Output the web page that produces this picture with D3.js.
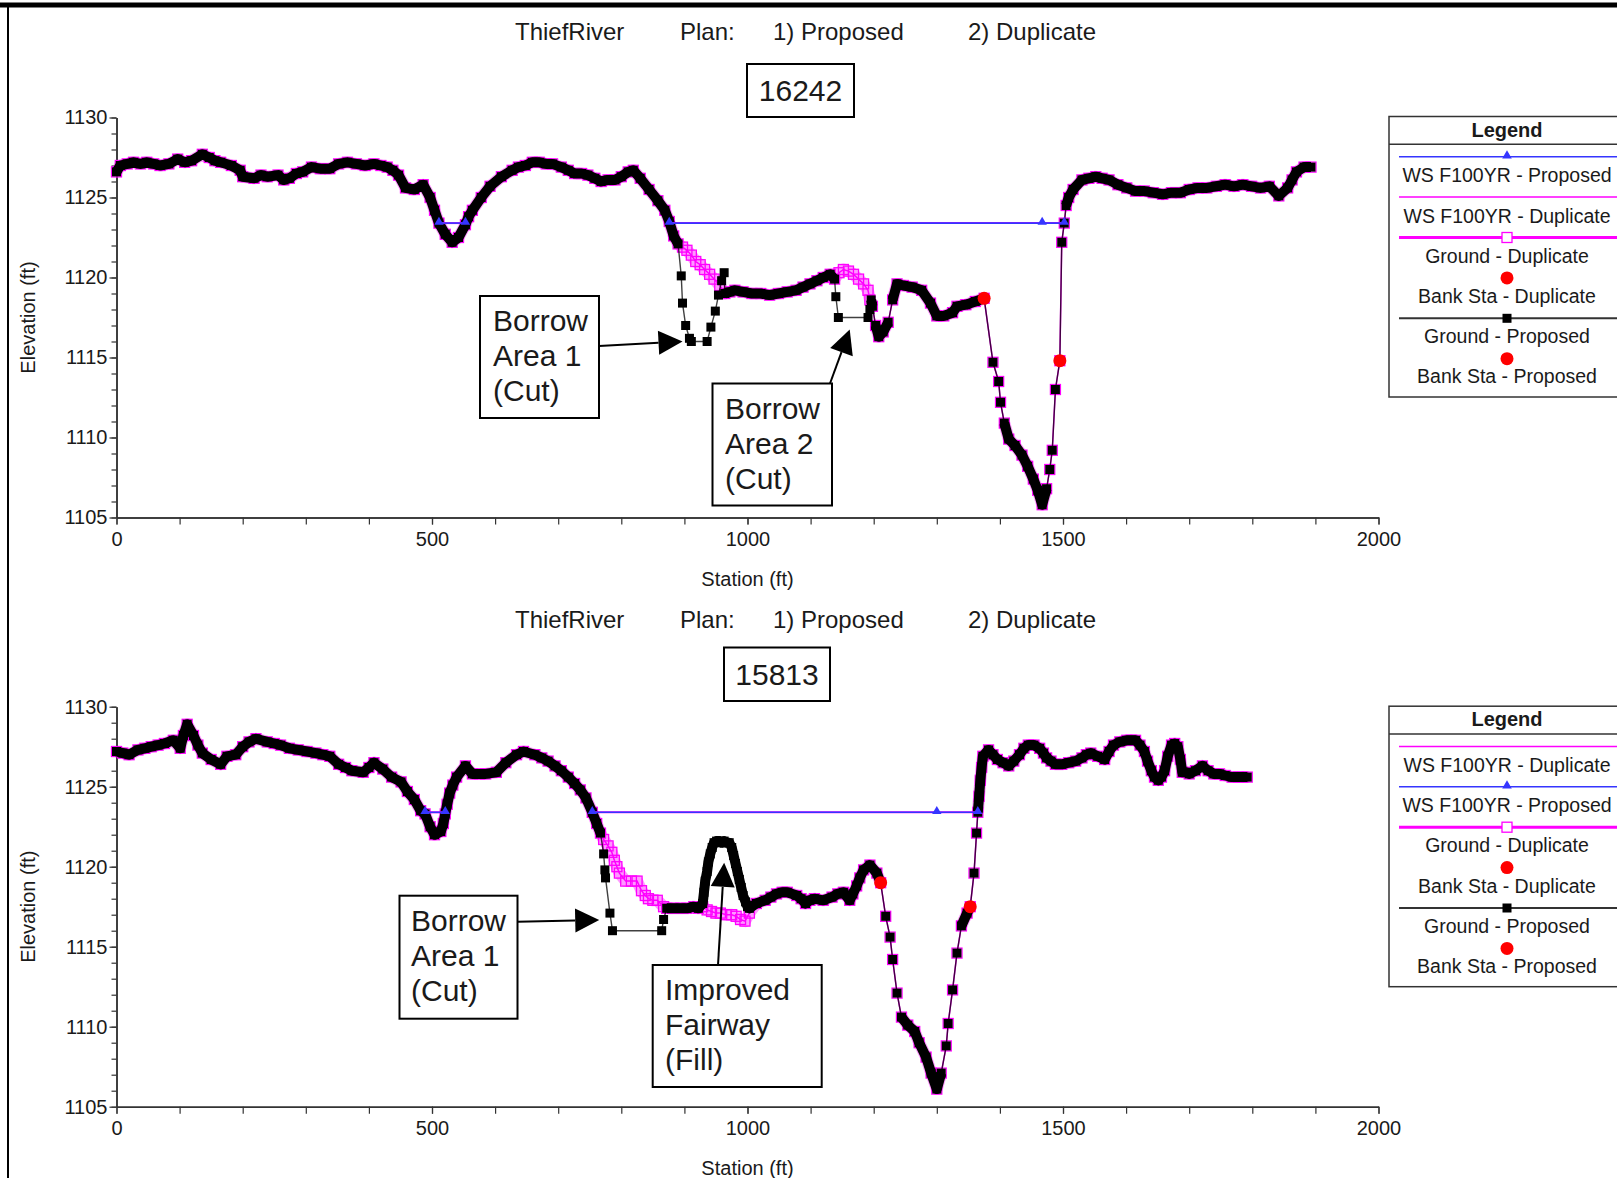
<!DOCTYPE html>
<html>
<head>
<meta charset="utf-8">
<script src="https://cdn.jsdelivr.net/npm/d3@7"></script>
<style>
  body { margin: 0; background: #fff; }
  text { font-family: "Liberation Sans", Arial, Helvetica, sans-serif; fill: #1a1a1a; }
</style>
</head>
<body>
<svg id="chart" width="1617" height="1178"></svg>
<script>
// ---- data (station ft, elevation ft) ----
const titleParts = ["ThiefRiver", "Plan:", "1) Proposed", "2) Duplicate"];
const stationTicks = [0, 500, 1000, 1500, 2000];
const stationMinor = [0, 100, 200, 300, 400, 500, 600, 700, 800, 900, 1000, 1100, 1200, 1300, 1400, 1500, 1600, 1700, 1800, 1900, 2000];
const elevTicks = [1105, 1110, 1115, 1120, 1125, 1130];
const elevMinor = [1105, 1106, 1107, 1108, 1109, 1110, 1111, 1112, 1113, 1114, 1115, 1116, 1117, 1118, 1119, 1120, 1121, 1122, 1123, 1124, 1125, 1126, 1127, 1128, 1129, 1130];

// existing ground (plan 2 "Duplicate") at XS 16242
const ground16242Dup = [[0,1126.6],[6,1127.0],[17,1127.1],[27,1127.2],[38,1127.1],[48,1127.2],[59,1127.1],[69,1127.0],[83,1127.1],[97,1127.4],[108,1127.2],[119,1127.3],[136,1127.7],[147,1127.5],[156,1127.3],[165,1127.2],[182,1127.0],[196,1126.7],[200,1126.3],[218,1126.2],[229,1126.4],[239,1126.3],[256,1126.4],[265,1126.1],[274,1126.2],[285,1126.5],[295,1126.6],[309,1126.9],[323,1126.8],[338,1126.8],[352,1127.1],[366,1127.2],[380,1127.1],[394,1127.0],[408,1127.1],[419,1127.0],[429,1126.9],[438,1126.7],[447,1126.4],[458,1125.6],[472,1125.5],[486,1125.8],[497,1125.0],[504,1124.2],[511,1123.4],[521,1122.7],[532,1122.2],[542,1122.5],[553,1123.3],[558,1123.8],[564,1124.2],[578,1125.0],[592,1125.7],[610,1126.3],[627,1126.7],[637,1126.9],[648,1127.0],[659,1127.2],[670,1127.2],[681,1127.1],[691,1127.1],[705,1126.9],[716,1126.7],[726,1126.5],[737,1126.5],[747,1126.4],[758,1126.2],[768,1126.0],[779,1126.1],[790,1126.1],[800,1126.3],[811,1126.6],[819,1126.7],[830,1126.2],[844,1125.5],[858,1124.8],[869,1124.2],[876,1123.5],[883,1122.6],[890,1122.1],[897,1121.9],[904,1121.7],[911,1121.4],[918,1121.0],[925,1120.8],[932,1120.5],[940,1120.2],[947,1119.9],[956,1119.5],[964,1119.0],[972,1119.1],[980,1119.2],[993,1119.1],[1007,1119.0],[1021,1119.0],[1035,1118.9],[1049,1119.0],[1063,1119.1],[1077,1119.2],[1088,1119.4],[1099,1119.6],[1110,1119.8],[1120,1120.0],[1131,1120.2],[1138,1119.9],[1145,1120.3],[1152,1120.5],[1160,1120.4],[1168,1120.2],[1176,1119.9],[1184,1119.6],[1191,1119.2],[1194,1118.6],[1198,1118.2],[1203,1117.0],[1208,1116.3],[1215,1116.6],[1223,1117.2],[1230,1118.6],[1237,1119.6],[1247,1119.5],[1261,1119.4],[1276,1119.2],[1290,1118.4],[1300,1117.6],[1311,1117.6],[1325,1117.8],[1332,1118.2],[1346,1118.3],[1361,1118.5],[1375,1118.7],[1389,1114.7],[1398,1113.5],[1401,1112.2],[1407,1110.9],[1414,1109.9],[1424,1109.5],[1435,1108.9],[1444,1108.2],[1453,1107.4],[1460,1106.7],[1467,1105.8],[1474,1106.8],[1479,1108.0],[1483,1109.2],[1488,1113.0],[1495,1114.8],[1498,1122.2],[1502,1123.4],[1505,1124.5],[1509,1125.0],[1516,1125.5],[1530,1126.1],[1541,1126.2],[1552,1126.3],[1562,1126.2],[1573,1126.1],[1587,1125.8],[1601,1125.6],[1615,1125.4],[1629,1125.4],[1643,1125.3],[1658,1125.2],[1672,1125.3],[1686,1125.3],[1700,1125.5],[1714,1125.6],[1728,1125.6],[1743,1125.7],[1757,1125.8],[1771,1125.7],[1785,1125.8],[1799,1125.7],[1813,1125.6],[1827,1125.7],[1842,1125.1],[1856,1125.6],[1863,1126.1],[1870,1126.6],[1882,1126.9],[1893,1126.9]];
// plan 1 "Proposed" changes at XS 16242 (each replaces the existing ground between its end stations)
const cut16242Area1 = [[890,1122.1],[895,1120.1],[897,1118.4],[902,1117.0],[908,1116.2],[911,1116.0],[936,1116.0],[942,1116.9],[949,1117.9],[954,1118.9],[959,1119.8],[963,1120.3]];
const cut16242Area2 = [[1138,1119.9],[1140,1118.8],[1144,1117.5],[1191,1117.5],[1194,1118.0],[1196,1118.6]];
const ws16242Elev = 1123.4;
const ws16242Reaches = [[511, 553], [876, 1502]];
const ws16242Marks = [511, 553, 876, 1467, 1502];
const bank16242 = [[1375, 1118.7], [1495, 1114.8]];
const legend16242 = ["WS F100YR - Proposed", "WS F100YR - Duplicate", "Ground - Duplicate", "Bank Sta - Duplicate", "Ground - Proposed", "Bank Sta - Proposed"];

// existing ground (plan 2 "Duplicate") at XS 15813
const ground15813Dup = [[0,1127.2],[10,1127.1],[20,1127.0],[34,1127.3],[45,1127.4],[55,1127.5],[66,1127.6],[76,1127.7],[90,1127.9],[101,1127.4],[106,1128.2],[112,1128.9],[122,1128.2],[129,1127.6],[136,1127.1],[150,1126.7],[165,1126.4],[175,1126.9],[189,1127.0],[200,1127.5],[210,1127.8],[221,1128.0],[239,1127.8],[250,1127.7],[260,1127.6],[274,1127.4],[288,1127.3],[302,1127.2],[316,1127.1],[327,1127.0],[338,1126.9],[352,1126.4],[363,1126.2],[373,1126.0],[391,1125.9],[400,1126.2],[408,1126.5],[422,1126.1],[436,1125.6],[451,1125.3],[461,1124.7],[472,1124.2],[482,1123.5],[489,1123.3],[497,1122.5],[504,1122.0],[514,1122.2],[518,1122.7],[521,1123.3],[524,1123.9],[528,1124.6],[533,1125.1],[539,1125.6],[553,1126.3],[564,1125.8],[575,1125.8],[585,1125.8],[602,1125.9],[617,1126.5],[634,1127.0],[645,1127.2],[663,1127.0],[674,1126.8],[684,1126.6],[695,1126.3],[705,1126.0],[716,1125.6],[726,1125.2],[735,1124.8],[744,1124.3],[754,1123.4],[761,1122.7],[767,1122.1],[772,1121.7],[779,1121.3],[785,1120.9],[789,1120.4],[793,1120.0],[797,1119.6],[807,1119.1],[816,1119.1],[825,1119.1],[832,1118.5],[838,1118.2],[843,1118.0],[850,1117.9],[857,1117.9],[867,1117.5],[872,1117.4],[883,1117.4],[894,1117.4],[904,1117.4],[915,1117.5],[922,1117.4],[929,1117.5],[936,1117.3],[943,1117.2],[950,1117.1],[957,1117.1],[966,1117.0],[975,1117.0],[982,1116.9],[989,1116.7],[996,1116.6],[1003,1117.1],[1014,1117.7],[1028,1117.9],[1037,1118.1],[1046,1118.3],[1055,1118.4],[1063,1118.4],[1078,1118.2],[1085,1118.0],[1092,1117.7],[1099,1117.9],[1106,1118.0],[1120,1117.9],[1134,1118.1],[1143,1118.3],[1152,1118.4],[1162,1117.9],[1167,1118.3],[1173,1118.8],[1178,1119.3],[1184,1119.8],[1194,1120.1],[1205,1119.6],[1211,1119.0],[1219,1116.9],[1226,1115.6],[1230,1114.2],[1237,1112.1],[1244,1110.6],[1254,1110.1],[1265,1109.7],[1272,1109.0],[1283,1108.1],[1291,1107.1],[1300,1106.1],[1307,1107.1],[1315,1108.8],[1318,1110.2],[1325,1112.3],[1332,1114.6],[1339,1116.3],[1348,1117.1],[1353,1117.5],[1359,1119.6],[1363,1122.1],[1365,1123.4],[1367,1124.4],[1369,1125.4],[1371,1126.2],[1373,1126.9],[1382,1127.3],[1389,1127.0],[1396,1126.7],[1405,1126.5],[1414,1126.3],[1422,1126.6],[1431,1127.0],[1438,1127.4],[1445,1127.6],[1454,1127.6],[1463,1127.4],[1469,1127.1],[1474,1126.8],[1481,1126.6],[1488,1126.4],[1498,1126.4],[1509,1126.5],[1520,1126.6],[1530,1126.8],[1537,1127.0],[1544,1127.1],[1555,1126.9],[1566,1126.7],[1573,1127.2],[1580,1127.6],[1590,1127.8],[1601,1127.9],[1608,1127.9],[1615,1127.9],[1622,1127.6],[1629,1127.2],[1634,1126.6],[1640,1126.0],[1645,1125.6],[1651,1125.4],[1656,1125.6],[1661,1126.0],[1666,1126.9],[1672,1127.6],[1677,1127.7],[1682,1127.5],[1686,1126.7],[1689,1125.9],[1695,1125.9],[1700,1125.8],[1710,1126.0],[1721,1126.3],[1730,1126.0],[1739,1125.8],[1748,1125.8],[1757,1125.7],[1768,1125.6],[1778,1125.6],[1785,1125.6],[1792,1125.6]];
const cut15813Area1 = [[767,1122.1],[772,1120.8],[774,1119.8],[775,1119.3],[782,1117.1],[786,1116.0],[864,1116.0],[867,1116.7],[872,1117.4]];
const fill15813Fairway = [[929,1117.7],[931,1118.4],[933,1119.1],[936,1119.7],[938,1120.3],[941,1120.8],[944,1121.2],[947,1121.5],[951,1121.6],[955,1121.6],[959,1121.5],[963,1121.6],[967,1121.5],[971,1121.5],[975,1121.2],[978,1120.7],[981,1120.2],[984,1119.7],[987,1119.2],[990,1118.7],[993,1118.2],[997,1117.8],[1000,1117.5],[1003,1117.4]];
const ws15813Elev = 1123.4;
const ws15813Reaches = [[489, 521], [754, 1365]];
const ws15813Marks = [489, 521, 754, 1300, 1365];
const bank15813 = [[1211, 1119.0], [1353, 1117.5]];
const legend15813 = ["WS F100YR - Duplicate", "WS F100YR - Proposed", "Ground - Duplicate", "Bank Sta - Duplicate", "Ground - Proposed", "Bank Sta - Proposed"];

// ---- layout ----
const svg = d3.select("#chart");
const plotLeft = 116.5, plotRight = 1378.5, plotH = 400;
const magenta = "#ff00ff", blue = "#3535ff", red = "#ff0000";
const x = d3.scaleLinear().domain([0, 2000]).range([plotLeft, plotRight]);

const panels = [
  { top: 117.5, titleY: 39.5, label: "16242", labelBox: [747, 64, 107, 53], legendTop: 116.5,
    legend: legend16242, dup: ground16242Dup, cuts: [cut16242Area1, cut16242Area2], fills: [],
    wsElev: ws16242Elev, wsReaches: ws16242Reaches, wsMarks: ws16242Marks, banks: bank16242,
    notes: [
      { lines: ["Borrow", "Area 1", "(Cut)"], box: [480, 296, 119, 122], tx: 493, base: [331, 366, 401], from: [599, 346], tip: [897, 1116.0] },
      { lines: ["Borrow", "Area 2", "(Cut)"], box: [712.5, 383.5, 119.5, 122], tx: 725, base: [419, 454, 489], from: [830, 383.5], tip: [1162, 1116.75] }
    ] },
  { top: 706.7, titleY: 628, label: "15813", labelBox: [724, 647.5, 106, 53.5], legendTop: 706.2,
    legend: legend15813, dup: ground15813Dup, cuts: [cut15813Area1], fills: [fill15813Fairway],
    wsElev: ws15813Elev, wsReaches: ws15813Reaches, wsMarks: ws15813Marks, banks: bank15813,
    notes: [
      { lines: ["Borrow", "Area 1", "(Cut)"], box: [399.5, 895.7, 118, 123], tx: 411, base: [931, 966, 1001], from: [517.6, 921.7], tip: [765, 1116.67] },
      { lines: ["Improved", "Fairway", "(Fill)"], box: [652.7, 965, 169, 122], tx: 665, base: [1000, 1035, 1069.5], from: [718, 965], tip: [963, 1120.24] }
    ] }
];
const titleX = [515, 680, 773, 968];

const legendSymbols = {
  "WS F100YR - Proposed": { stroke: blue, width: 1.5, marker: "triangle" },
  "WS F100YR - Duplicate": { stroke: magenta, width: 1.5 },
  "Ground - Duplicate": { stroke: magenta, width: 3, marker: "open" },
  "Bank Sta - Duplicate": { marker: "dot" },
  "Ground - Proposed": { stroke: "#333", width: 2, marker: "square" },
  "Bank Sta - Proposed": { marker: "dot" }
};

// frame
svg.append("line").attr("x1", 0).attr("x2", 1617).attr("y1", 5).attr("y2", 5)
  .attr("stroke", "#000").attr("stroke-width", 5);
svg.append("line").attr("x1", 8).attr("x2", 8).attr("y1", 5).attr("y2", 1178)
  .attr("stroke", "#000").attr("stroke-width", 2);

function buildProposed(dup, mods) {
  let pts = dup.slice();
  mods.forEach(m => {
    const a = m[0][0], b = m[m.length - 1][0];
    pts = pts.filter(p => p[0] < a).concat(m, pts.filter(p => p[0] > b));
  });
  return pts;
}

// closely spaced survey points merge into a solid band, like the dense markers do;
// segments inside a cut stay thin
function denseRuns(pts, y, maxLen, thinPts) {
  const out = [];
  let cur = [pts[0]];
  for (let i = 1; i < pts.length; i++) {
    const a = pts[i - 1], b = pts[i];
    const d = Math.hypot(x(b[0]) - x(a[0]), y(b[1]) - y(a[1]));
    const thin = thinPts && thinPts.has(a) && thinPts.has(b);
    if (d <= maxLen && !thin) cur.push(b);
    else { if (cur.length > 1) out.push(cur); cur = [b]; }
  }
  if (cur.length > 1) out.push(cur);
  return out;
}

function arrow(g, x0, y0, x1, y1) {
  const ang = Math.atan2(y1 - y0, x1 - x0), L = 24, hw = 12;
  const bx = x1 - L * Math.cos(ang), by = y1 - L * Math.sin(ang);
  g.append("line").attr("x1", x0).attr("y1", y0).attr("x2", bx).attr("y2", by)
    .attr("stroke", "#000").attr("stroke-width", 2);
  g.append("path")
    .attr("d", `M${x1},${y1}L${bx - hw * Math.sin(ang)},${by + hw * Math.cos(ang)}L${bx + hw * Math.sin(ang)},${by - hw * Math.cos(ang)}Z`)
    .attr("fill", "#000");
}

function drawLegend(g, top, items) {
  const lx = 1389, lw = 236, cx = lx + lw / 2;
  g.append("rect").attr("x", lx).attr("y", top).attr("width", lw).attr("height", 280.5)
    .attr("fill", "#fff").attr("stroke", "#333").attr("stroke-width", 1.5);
  g.append("line").attr("x1", lx).attr("x2", lx + lw).attr("y1", top + 27.8).attr("y2", top + 27.8)
    .attr("stroke", "#333").attr("stroke-width", 1.5);
  g.append("text").attr("x", cx).attr("y", top + 20).attr("text-anchor", "middle")
    .attr("font-size", 20).attr("font-weight", "bold").text("Legend");
  items.forEach((name, i) => {
    const s = legendSymbols[name];
    const sy = top + 40.2 + i * 40.4, ty = top + 58.8 + i * 40.2;
    if (s.stroke) {
      g.append("line").attr("x1", lx + 10).attr("x2", lx + lw).attr("y1", sy).attr("y2", sy)
        .attr("stroke", s.stroke).attr("stroke-width", s.width);
    }
    if (s.marker === "triangle") {
      g.append("path").attr("d", d3.symbol(d3.symbolTriangle, 40)()).attr("transform", `translate(${cx},${sy - 1})`).attr("fill", blue);
    } else if (s.marker === "open") {
      g.append("rect").attr("x", cx - 5).attr("y", sy - 5).attr("width", 10).attr("height", 10)
        .attr("fill", "#fff").attr("stroke", magenta).attr("stroke-width", 1.3);
    } else if (s.marker === "square") {
      g.append("rect").attr("x", cx - 4.5).attr("y", sy - 4.5).attr("width", 9).attr("height", 9).attr("fill", "#000");
    } else if (s.marker === "dot") {
      g.append("circle").attr("cx", cx).attr("cy", sy).attr("r", 6.5).attr("fill", red);
    }
    g.append("text").attr("x", cx).attr("y", ty + 7).attr("text-anchor", "middle")
      .attr("font-size", 19.5).text(name);
  });
}

panels.forEach(p => {
  const g = svg.append("g");
  const y = d3.scaleLinear().domain([1105, 1130]).range([p.top + plotH, p.top]);
  const line = d3.line().x(d => x(d[0])).y(d => y(d[1]));
  const prop = buildProposed(p.dup, p.cuts.concat(p.fills));
  const cutPts = new Set(p.cuts.flat());

  // titles
  titleParts.forEach((t, i) => {
    g.append("text").attr("x", titleX[i]).attr("y", p.titleY).attr("font-size", 24).text(t);
  });
  const [bx, by, bw, bh] = p.labelBox;
  g.append("rect").attr("x", bx).attr("y", by).attr("width", bw).attr("height", bh)
    .attr("fill", "#fff").attr("stroke", "#000").attr("stroke-width", 2);
  g.append("text").attr("x", bx + bw / 2).attr("y", by + bh / 2 + 10.5)
    .attr("text-anchor", "middle").attr("font-size", 30).text(p.label);

  // axes
  const axisStyle = sel => {
    sel.attr("font-size", 20).attr("font-family", '"Liberation Sans", Arial, sans-serif');
    sel.selectAll("path.domain").attr("stroke", "#333").attr("stroke-width", 1.5);
    sel.selectAll(".tick line").attr("stroke", "#333").attr("stroke-width", 1.2);
    sel.selectAll(".tick text").attr("fill", "#1a1a1a");
  };
  g.append("g").attr("transform", `translate(0,${p.top + plotH})`)
    .call(d3.axisBottom(x).tickValues(stationMinor).tickSize(7).tickSizeOuter(0).tickFormat(""))
    .call(axisStyle);
  g.append("g").attr("transform", `translate(0,${p.top + plotH})`)
    .call(d3.axisBottom(x).tickValues(stationTicks).tickSize(7).tickSizeOuter(0).tickPadding(7).tickFormat(d3.format("d")))
    .call(axisStyle);
  g.append("g").attr("transform", `translate(${plotLeft},0)`)
    .call(d3.axisLeft(y).tickValues(elevMinor).tickSize(5).tickSizeOuter(0).tickFormat(""))
    .call(axisStyle);
  g.append("g").attr("transform", `translate(${plotLeft},0)`)
    .call(d3.axisLeft(y).tickValues(elevTicks).tickSize(7).tickSizeOuter(0).tickPadding(2).tickFormat(d3.format("d")))
    .call(axisStyle);
  g.append("text").attr("transform", `translate(28,${p.top + plotH / 2}) rotate(-90)`)
    .attr("text-anchor", "middle").attr("dy", "0.35em").attr("font-size", 20).text("Elevation (ft)");
  g.append("text").attr("x", x(1000)).attr("y", p.top + plotH + 68.5)
    .attr("text-anchor", "middle").attr("font-size", 20).text("Station (ft)");

  // ground - duplicate
  const bandLen = 17;
  denseRuns(p.dup, y, bandLen).forEach(r => {
    g.append("path").attr("d", line(r)).attr("fill", "none").attr("stroke", magenta)
      .attr("stroke-opacity", 0.4).attr("stroke-width", 12).attr("stroke-linejoin", "round");
  });
  g.append("path").attr("d", line(p.dup)).attr("fill", "none").attr("stroke", magenta).attr("stroke-width", 1.5);
  g.selectAll(null).data(p.dup).join("rect")
    .attr("x", d => x(d[0]) - 5).attr("y", d => y(d[1]) - 5).attr("width", 10).attr("height", 10)
    .attr("fill", "none").attr("stroke", magenta).attr("stroke-width", 1.3);

  // ground - proposed
  g.append("path").attr("d", line(prop)).attr("fill", "none").attr("stroke", "#000")
    .attr("stroke-opacity", 0.75).attr("stroke-width", 1.4);
  denseRuns(prop, y, bandLen, cutPts).forEach(r => {
    g.append("path").attr("d", line(r)).attr("fill", "none").attr("stroke", "#000")
      .attr("stroke-width", 10).attr("stroke-linejoin", "round");
  });
  g.selectAll(null).data(prop).join("rect")
    .attr("x", d => x(d[0]) - 4.5).attr("y", d => y(d[1]) - 4.5).attr("width", 9).attr("height", 9)
    .attr("fill", "#000");

  // water surfaces
  p.wsReaches.forEach(r => {
    g.append("line").attr("x1", x(r[0])).attr("x2", x(r[1])).attr("y1", y(p.wsElev)).attr("y2", y(p.wsElev))
      .attr("stroke", magenta).attr("stroke-width", 2);
    g.append("line").attr("x1", x(r[0])).attr("x2", x(r[1])).attr("y1", y(p.wsElev)).attr("y2", y(p.wsElev))
      .attr("stroke", blue).attr("stroke-width", 1.6);
  });
  g.selectAll(null).data(p.wsMarks).join("path")
    .attr("d", d3.symbol(d3.symbolTriangle, 38)())
    .attr("transform", d => `translate(${x(d)},${y(p.wsElev) - 1})`).attr("fill", blue);

  // bank stations
  g.selectAll(null).data(p.banks).join("circle")
    .attr("cx", d => x(d[0])).attr("cy", d => y(d[1])).attr("r", 6.5).attr("fill", red);

  // annotations
  p.notes.forEach(n => {
    g.append("rect").attr("x", n.box[0]).attr("y", n.box[1]).attr("width", n.box[2]).attr("height", n.box[3])
      .attr("fill", "#fff").attr("stroke", "#000").attr("stroke-width", 2);
    n.lines.forEach((t, i) => {
      g.append("text").attr("x", n.tx).attr("y", n.base[i]).attr("font-size", 30).text(t);
    });
    arrow(g, n.from[0], n.from[1], x(n.tip[0]), y(n.tip[1]));
  });

  drawLegend(g, p.legendTop, p.legend);
});
</script>
</body>
</html>
